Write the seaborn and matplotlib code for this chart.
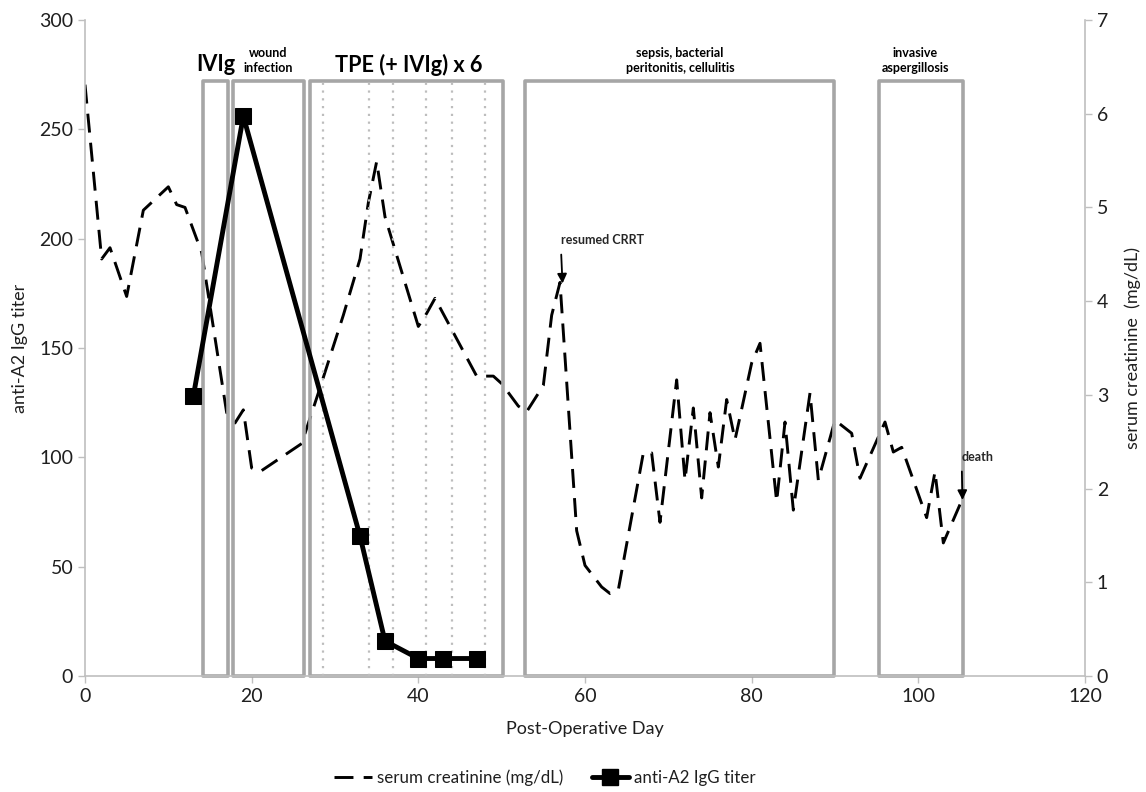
import matplotlib
matplotlib.use("Agg")
import matplotlib.pyplot as plt
import seaborn as sns
import pandas as pd
from matplotlib.patches import Rectangle
from matplotlib.lines import Line2D

# ---- data ----
creat_days = [0, 2, 3, 5, 7, 10, 11, 12, 14, 17, 18, 19, 20, 21, 26, 28, 31, 33, 34, 35,
              36, 40, 41, 42, 47, 49, 50, 52, 53, 55, 56, 57, 59, 60, 62, 63, 64, 67, 68,
              69, 71, 72, 73, 74, 75, 76, 77, 78, 80, 81, 83, 84, 85, 87, 88, 90, 92, 93,
              96, 97, 98, 101, 102, 103, 105]
creat_vals = [6.31, 4.45, 4.57, 4.05, 4.97, 5.22, 5.03, 5.0, 4.52, 2.81, 2.70, 2.84, 2.22,
              2.18, 2.48, 3.02, 3.85, 4.45, 5.05, 5.49, 4.9, 3.73, 3.87, 4.03, 3.2, 3.2,
              3.12, 2.88, 2.82, 3.1, 3.85, 4.2, 1.55, 1.18, 0.95, 0.88, 0.92, 2.38, 2.38,
              1.64, 3.16, 2.09, 2.86, 1.9, 2.81, 2.23, 2.95, 2.52, 3.34, 3.55, 1.86, 2.71,
              1.77, 3.02, 2.09, 2.73, 2.59, 2.11, 2.71, 2.39, 2.44, 1.69, 2.18, 1.42, 1.83]

titer_days = [13, 19, 33, 36, 40, 43, 47]
titer_vals = [128, 256, 64, 16, 8, 8, 8]

box_labels = ["IVIg", "wound\ninfection", "TPE (+ IVIg) x 6",
              "sepsis, bacterial\nperitonitis, cellulitis", "invasive\naspergillosis"]
box_starts = [14.2, 17.8, 27.0, 52.8, 95.3]
box_ends = [17.2, 26.3, 50.1, 89.9, 105.3]
box_top = 272
tpe_sessions = [28.5, 34.1, 36.9, 40.9, 44.0, 48.0]

x_ticks = [0, 20, 40, 60, 80, 100, 120]
left_ticks = [0, 50, 100, 150, 200, 250, 300]
right_ticks = [0, 1, 2, 3, 4, 5, 6, 7]

# ---- style ----
sns.set_style("white")
plt.rcParams["font.family"] = ["Lato", "DejaVu Sans"]

fig = plt.figure(figsize=(11.46, 7.92), dpi=100)
ax = fig.add_axes([85 / 1146, 1 - 676 / 792, 1000 / 1146, 656 / 792])
ax2 = ax.twinx()

spine_col = "#BFBFBF"
box_col = "#A6A6A6"

# boxes
for s, e in zip(box_starts, box_ends):
    ax.add_patch(Rectangle((s, 0), e - s, box_top, fill=False, edgecolor=box_col,
                           linewidth=2.6, joinstyle="round", clip_on=False, zorder=1))
for d in tpe_sessions:
    ax.plot([d, d], [0, box_top], linestyle=(0, (1, 2.5)), color="#BDBDBD", linewidth=1.6, zorder=1)

# series
df_c = pd.DataFrame({"day": creat_days, "creat": creat_vals})
df_t = pd.DataFrame({"day": titer_days, "titer": titer_vals})

sns.lineplot(data=df_c, x="day", y="creat", ax=ax2, color="black", linewidth=2.1,
             linestyle=(0, (6.5, 3.5)), legend=False)
sns.lineplot(data=df_t, x="day", y="titer", ax=ax, color="black", linewidth=3.5,
             marker="s", markersize=11, markeredgecolor="black", legend=False, zorder=5)

ax.set_zorder(ax2.get_zorder() + 1)
ax.patch.set_visible(False)

# axes limits/ticks
ax.set_xlim(0, 120)
ax.set_ylim(0, 300)
ax2.set_ylim(0, 7)
ax.set_xticks(x_ticks)
ax.set_yticks(left_ticks)
ax2.set_yticks(right_ticks)

tick_col = "#1f1f1f"
ax.tick_params(axis="both", labelsize=14, colors=spine_col, labelcolor=tick_col,
               length=5, width=1, direction="out", left=True, bottom=True)
ax2.tick_params(axis="y", labelsize=14, colors=spine_col, labelcolor=tick_col,
                length=5, width=1, direction="out", right=True)

for a in (ax, ax2):
    for side, sp in a.spines.items():
        sp.set_color(spine_col)
        sp.set_linewidth(1.2)
    a.spines["top"].set_visible(False)
ax.spines["right"].set_visible(False)
ax2.spines["left"].set_visible(False)
ax2.spines["bottom"].set_visible(False)

ax.set_xlabel("Post-Operative Day", fontsize=13, color=tick_col, labelpad=12)
ax.set_ylabel("anti-A2 IgG titer", fontsize=13, color=tick_col, labelpad=8)
ax2.set_ylabel("serum creatinine  (mg/dL)", fontsize=13, color=tick_col, labelpad=12)

# box labels
big = dict(fontsize=15.6, fontweight="bold", ha="center", va="center", color="black")
small = dict(fontsize=9, fontweight="bold", ha="center", va="center", color="black",
             linespacing=1.3)
ax.text((box_starts[0] + box_ends[0]) / 2, 279.5, box_labels[0], **big)
ax.text(22.0, 281.5, box_labels[1], **small)
ax.text(38.8, 279.5, box_labels[2], **big)
ax.text(71.4, 281.5, box_labels[3], **small)
ax.text(99.6, 281.5, box_labels[4], **small)

# annotations
ax.annotate("resumed CRRT", xy=(57.3, 179.5), xytext=(57.1, 199.5), fontsize=9,
            fontweight="bold", ha="left", va="center",
            arrowprops=dict(arrowstyle="-|>", color="black", lw=1.3, mutation_scale=14,
                            shrinkA=4, shrinkB=0, relpos=(0.0, 0.0)))
ax.annotate("death", xy=(105.3, 80.5), xytext=(105.2, 100.3), fontsize=9,
            fontweight="bold", ha="left", va="center",
            arrowprops=dict(arrowstyle="-|>", color="black", lw=1.3, mutation_scale=14,
                            shrinkA=4, shrinkB=0, relpos=(0.0, 0.0)))

# legend
handles = [Line2D([], [], color="black", linewidth=2.1, linestyle=(0, (6.5, 3.5))),
           Line2D([], [], color="black", linewidth=3.5, marker="s", markersize=11)]
fig.legend(handles, ["serum creatinine (mg/dL)", "anti-A2 IgG titer"], loc="center",
           bbox_to_anchor=(545 / 1146, 1 - 778 / 792), ncol=2, frameon=False,
           fontsize=12.2, handlelength=2.2, columnspacing=1.7, handletextpad=0.3,
           labelcolor=tick_col)

fig.savefig("out.png", dpi=100)
